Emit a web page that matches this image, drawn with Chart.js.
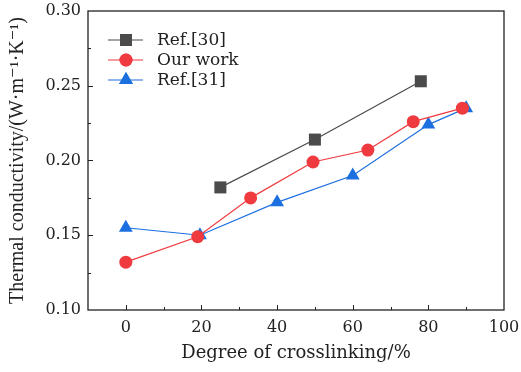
<!DOCTYPE html>
<html>
<head>
<meta charset="utf-8">
<script src="https://cdn.jsdelivr.net/npm/chart.js@4.4.1/dist/chart.umd.min.js"></script>
<style>
  html, body { margin: 0; padding: 0; background: #fff; }
  #wrap { width: 521px; height: 372px; position: relative; }
</style>
</head>
<body>
<div id="wrap"><canvas id="kChart" width="521" height="372"></canvas></div>
<script>
// degree of crosslinking (%) and thermal conductivity (W/(m·K))
const ref30X = [25, 50, 78];
const ref30Y = [0.182, 0.214, 0.253];
const oursX = [0, 19, 33, 49.5, 64, 76, 89];
const oursY = [0.132, 0.149, 0.175, 0.199, 0.207, 0.226, 0.235];
const ref31X = [0, 19.6, 40, 60, 80, 90];
const ref31Y = [0.155, 0.150, 0.172, 0.190, 0.224, 0.235];

const xTicks = [0, 20, 40, 60, 80, 100];
const yTicks = [0.10, 0.15, 0.20, 0.25, 0.30];

const FONT = '"DejaVu Serif", "Liberation Serif", serif';
const TIMES = '"Liberation Serif", "DejaVu Serif", serif';
const GREY = '#4b4b4b', RED = '#ef3b3f', BLUE = '#1c6fdf';

const pts = (xs, ys) => xs.map((x, i) => ({ x: x, y: ys[i] }));

const series = [
  { label: 'Ref.[30]', data: pts(ref30X, ref30Y), color: GREY, style: 'rect', r: 8.5 },
  { label: 'Our work', data: pts(oursX, oursY), color: RED, style: 'circle', r: 6.5 },
  { label: 'Ref.[31]', data: pts(ref31X, ref31Y), color: BLUE, style: 'triangle', r: 8 }
];

// box, inward ticks and the legend
const frame = {
  id: 'frame',
  afterDatasetsDraw(chart) {
    const { ctx, chartArea: a, scales: { x, y } } = chart;
    ctx.save();
    ctx.strokeStyle = '#222';
    ctx.lineWidth = 1.3;
    ctx.strokeRect(a.left, a.top, a.right - a.left, a.bottom - a.top);
    ctx.lineWidth = 1;
    ctx.beginPath();
    for (let v = 0; v < 100; v += 10) {
      const px = Math.round(x.getPixelForValue(v)) + 0.5;
      const len = v % 20 === 0 ? 5 : 3;
      ctx.moveTo(px, a.bottom); ctx.lineTo(px, a.bottom - len);
    }
    for (let k = 1; k < 8; k++) {
      const py = Math.round(y.getPixelForValue(0.10 + k * 0.025)) + 0.5;
      const len = k % 2 === 0 ? 5 : 3;
      ctx.moveTo(a.left, py); ctx.lineTo(a.left + len, py);
    }
    ctx.stroke();

    // legend
    ctx.font = '17px ' + FONT;
    ctx.textBaseline = 'middle';
    series.forEach((s, i) => {
      const ly = 40 + i * 20;
      ctx.strokeStyle = s.color;
      ctx.lineWidth = 1.2;
      ctx.beginPath(); ctx.moveTo(108, ly); ctx.lineTo(143, ly); ctx.stroke();
      ctx.fillStyle = s.color;
      Chart.helpers.drawPoint(ctx, { pointStyle: s.style, radius: s.r, rotation: 0, borderWidth: 0 }, 126, ly);
      ctx.fill();
      ctx.fillStyle = '#222';
      ctx.fillText(s.label, 157, ly + 1);
    });
    ctx.restore();
  }
};

new Chart(document.getElementById('kChart'), {
  type: 'line',
  data: {
    datasets: series.map(s => ({
      label: s.label,
      data: s.data,
      borderColor: s.color,
      backgroundColor: s.color,
      borderWidth: 1.2,
      pointStyle: s.style,
      pointRadius: s.r,
      pointBorderWidth: 0,
      tension: 0
    }))
  },
  options: {
    responsive: false,
    animation: false,
    layout: { padding: { top: 11, right: 17, left: 0, bottom: 0 } },
    plugins: { legend: { display: false }, tooltip: { enabled: false } },
    scales: {
      x: {
        type: 'linear', min: -10, max: 100,
        afterBuildTicks: s => { s.ticks = xTicks.map(v => ({ value: v })); },
        afterFit: s => { s.height = 62; s.paddingLeft = 0; s.paddingRight = 0; },
        grid: { display: false, drawTicks: false },
        border: { display: false },
        ticks: { color: '#222', font: { family: FONT, size: 16 }, padding: 8 },
        title: { display: true, text: 'Degree of crosslinking/%', color: '#222',
                 font: { family: FONT, size: 18 }, padding: { top: 0, bottom: 8 } }
      },
      y: {
        type: 'linear', min: 0.10, max: 0.30,
        afterBuildTicks: s => { s.ticks = yTicks.map(v => ({ value: v })); },
        afterFit: s => { s.width = 88; s.paddingTop = 0; s.paddingBottom = 0; },
        grid: { display: false, drawTicks: false },
        border: { display: false },
        ticks: { color: '#222', font: { family: FONT, size: 16 }, padding: 7,
                 callback: v => v.toFixed(2) },
        title: { display: true, text: 'Thermal conductivity/(W·m⁻¹·K⁻¹)', color: '#222',
                 font: { family: TIMES, size: 20 }, padding: { top: 6, bottom: 0 } }
      }
    }
  },
  plugins: [frame]
});
</script>
</body>
</html>
